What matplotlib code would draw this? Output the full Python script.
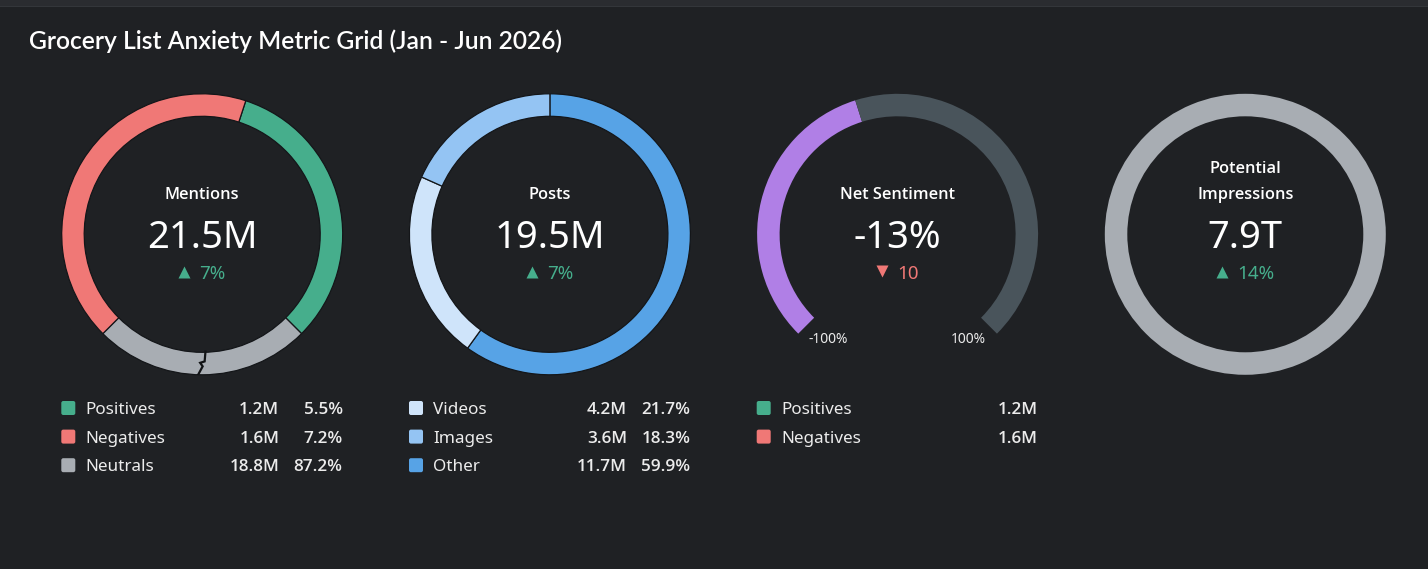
import numpy as np
import matplotlib
matplotlib.use("Agg")
import matplotlib.pyplot as plt
from matplotlib.patches import FancyBboxPatch, Rectangle

W, H = 1428, 569
BG = "#1f2124"
TEXT = "#ececec"
GREEN = "#46ae8c"
RED = "#f07876"
GREY = "#a8adb3"

TITLE = "Grocery List Anxiety Metric Grid (Jan - Jun 2026)"

# mentions
mention_labels = ["Positives", "Negatives", "Neutrals"]
mention_values = ["1.2M", "1.6M", "18.8M"]
mention_pct = [5.5, 7.2, 87.2]
mention_colors = [GREEN, RED, GREY]
mention_total = "21.5M"
mention_delta = "7%"

# posts
post_labels = ["Videos", "Images", "Other"]
post_values = ["4.2M", "3.6M", "11.7M"]
post_pct = [21.7, 18.3, 59.9]
post_colors = ["#cfe4fa", "#94c4f3", "#57a3e6"]
post_total = "19.5M"
post_delta = "7%"

# net sentiment
net_value = -13
net_range = [-100, 100]
net_delta = "10"
net_labels = ["Positives", "Negatives"]
net_values = ["1.2M", "1.6M"]
net_colors = [GREEN, RED]

# impressions
imp_total = "7.9T"
imp_delta = "14%"

BREAK_SHARE = 0.25  # neutrals drawn on a broken scale
R = 140.5
RING = 22.5 / R
CY = 234.3
CX = [202.2 + i * 347.7 for i in range(4)]
FONT = "Noto Sans"
BOLD = "Open Sans"

fig = plt.figure(figsize=(W / 100, H / 100), dpi=100)
fig.patch.set_facecolor(BG)


def pie_axes(cx):
    a = fig.add_axes([(cx - R) / W, 1 - (CY + R) / H, 2 * R / W, 2 * R / H])
    a.set_facecolor("none")
    return a


edge = dict(width=RING, edgecolor="#141619", linewidth=0.9)

# mentions donut, neutrals compressed with a break mark
ax1 = pie_axes(CX[0])
pn = mention_pct[0] + mention_pct[1]
shares = [(1 - BREAK_SHARE) * mention_pct[0] / pn, BREAK_SHARE,
          (1 - BREAK_SHARE) * mention_pct[1] / pn]
green_deg = shares[0] * 360
start_top = 180 - BREAK_SHARE * 180 - green_deg
ax1.pie(shares, colors=[GREEN, GREY, RED], startangle=90 - start_top,
        counterclock=False, radius=1, wedgeprops=edge)
# zigzag break at the bottom
r_in, r_out = 1 - RING, 1
zz_r = [r_in - 0.005, r_in + 0.065, r_in + 0.075, r_in + 0.1, r_out + 0.005]
zz_a = [-90 + 1.6, -90 + 1.1, -90 - 0.9, -90 + 0.2, -90 - 1.8]
zz_x = [r * np.cos(np.radians(a)) for r, a in zip(zz_r, zz_a)]
zz_y = [r * np.sin(np.radians(a)) for r, a in zip(zz_r, zz_a)]
ax1.plot(zz_x, zz_y, color="#111315", lw=1.6, solid_joinstyle="miter")
ax1.set_xlim(-1, 1)
ax1.set_ylim(-1, 1)

# posts donut
ax2 = pie_axes(CX[1])
order = [2, 0, 1]
ax2.pie([post_pct[i] for i in order], colors=[post_colors[i] for i in order],
        startangle=90, counterclock=False, radius=1, wedgeprops=edge)
ax2.set_xlim(-1, 1)
ax2.set_ylim(-1, 1)

# net sentiment gauge
ax3 = pie_axes(CX[2])
frac = (net_value - net_range[0]) / (net_range[1] - net_range[0])
ax3.pie([frac * 270, (1 - frac) * 270, 90], colors=["#b07fe6", "#49545b", "none"],
        startangle=225, counterclock=False, radius=1,
        wedgeprops=dict(width=RING, linewidth=0))
ax3.set_xlim(-1, 1)
ax3.set_ylim(-1, 1)

# impressions ring
ax4 = pie_axes(CX[3])
ax4.pie([1], colors=[GREY], startangle=90, radius=1,
        wedgeprops=dict(width=RING, linewidth=0))
ax4.set_xlim(-1, 1)
ax4.set_ylim(-1, 1)

# overlay in pixel coordinates
ax = fig.add_axes([0, 0, 1, 1])
ax.set_xlim(0, W)
ax.set_ylim(H, 0)
ax.axis("off")
ax.set_facecolor("none")

ax.add_patch(Rectangle((0, 0), W, 7, color="#2a2c30", lw=0))
ax.add_patch(Rectangle((0, 6), W, 1.2, color="#33363a", lw=0))

ax.text(29, 48.5, TITLE, fontsize=17.7, color="white", family="Lato",
        fontweight="semibold", va="baseline", ha="left")

fig.canvas.draw()
renderer = fig.canvas.get_renderer()


def centre(cx, titles, total, delta, up=True):
    for t, yb in titles:
        ax.text(cx, yb, t, fontsize=11.8, color="white", family=BOLD,
                fontweight="semibold", ha="center", va="baseline")
    ax.text(cx, 247.5, total, fontsize=27.5, color="white", family=FONT,
            ha="center", va="baseline")
    col = GREEN if up else RED
    t = ax.text(0, 279, delta, fontsize=13.5, color=col, family=FONT,
                ha="left", va="baseline")
    w = t.get_window_extent(renderer).width
    tri, gap = 10.5, 10
    x0 = cx - (tri + gap + w) / 2
    t.set_x(x0 + tri + gap)
    ax.plot([x0 + tri / 2], [271.5 if up else 271], marker="^" if up else "v",
            ms=9, color=col, mec="none")


centre(CX[0], [("Mentions", 199)], mention_total, mention_delta)
centre(CX[1], [("Posts", 199)], post_total, post_delta)
centre(CX[2], [("Net Sentiment", 199)], f"{net_value}%", net_delta, up=False)
centre(CX[3], [("Potential", 172.7), ("Impressions", 199)], imp_total, imp_delta)

ax.text(828, 343.3, f"{net_range[0]}%", fontsize=10, color=TEXT, family=FONT,
        ha="center", va="baseline")
ax.text(968, 343.3, f"{net_range[1]}%", fontsize=10, color=TEXT, family=FONT,
        ha="center", va="baseline")


def legend(x0, labels, colors, cols):
    for i, (lab, c) in enumerate(zip(labels, colors)):
        yb = 414 + i * 28.6
        ax.add_patch(FancyBboxPatch((x0 - 5.5, yb - 11.5), 11, 11,
                                    boxstyle="round,pad=1.5,rounding_size=2",
                                    fc=c, ec="none"))
        ax.text(x0 + 17.4, yb, lab, fontsize=12.3, color=TEXT, family=FONT,
                ha="left", va="baseline")
        for xr, vals in cols:
            ax.text(xr, yb, vals[i], fontsize=12.3, color=TEXT, family=BOLD,
                    fontweight="semibold", ha="right", va="baseline")


off = 347.7
legend(68.3, mention_labels, mention_colors,
       [(279.3, mention_values), (342.7, [f"{p}%" for p in mention_pct])])
legend(68.3 + off, post_labels, post_colors,
       [(279.3 + off, post_values), (342.7 + off, [f"{p}%" for p in post_pct])])
legend(68.3 + 2 * off, net_labels, net_colors,
       [(342.7 + 2 * off, net_values)])

fig.savefig("out.png", dpi=100, facecolor=BG)
